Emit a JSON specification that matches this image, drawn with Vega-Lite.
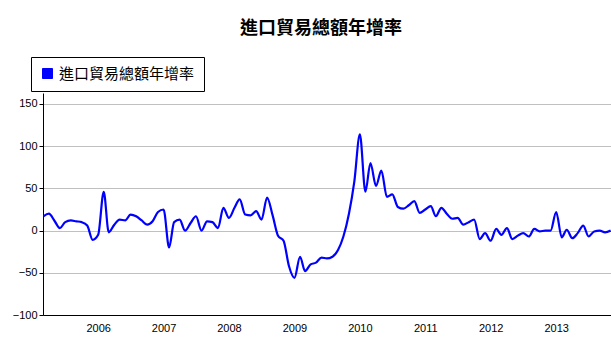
{
  "$schema": "https://vega.github.io/schema/vega-lite/v6.json",
  "autosize": "none",
  "width": 568,
  "height": 222,
  "padding": {"left": 43, "top": 93, "right": 0, "bottom": 39},
  "background": "white",
  "title": {
    "text": "進口貿易總額年增率",
    "font": "Noto Sans CJK TC",
    "fontSize": 18,
    "fontWeight": "bold",
    "color": "black",
    "anchor": "middle",
    "dx": -6,
    "offset": 19
  },
  "config": {
    "view": {"stroke": null},
    "axis": {"labelFont": "Liberation Sans", "labelFontSize": 11, "labelColor": "black", "domainColor": "black", "tickColor": "black", "title": null}
  },
  "data": {
    "values": [
      {"date": "2005-03-01", "value": 17},
      {"date": "2005-04-01", "value": 20},
      {"date": "2005-05-01", "value": 12},
      {"date": "2005-06-01", "value": 3},
      {"date": "2005-07-01", "value": 10},
      {"date": "2005-08-01", "value": 12},
      {"date": "2005-09-01", "value": 11},
      {"date": "2005-10-01", "value": 10},
      {"date": "2005-11-01", "value": 6},
      {"date": "2005-12-01", "value": -11},
      {"date": "2006-01-01", "value": -5},
      {"date": "2006-02-01", "value": 46},
      {"date": "2006-03-01", "value": -2},
      {"date": "2006-04-01", "value": 7},
      {"date": "2006-05-01", "value": 13},
      {"date": "2006-06-01", "value": 12},
      {"date": "2006-07-01", "value": 19},
      {"date": "2006-08-01", "value": 17},
      {"date": "2006-09-01", "value": 12},
      {"date": "2006-10-01", "value": 7},
      {"date": "2006-11-01", "value": 11},
      {"date": "2006-12-01", "value": 22},
      {"date": "2007-01-01", "value": 25},
      {"date": "2007-02-01", "value": -20},
      {"date": "2007-03-01", "value": 10},
      {"date": "2007-04-01", "value": 13},
      {"date": "2007-05-01", "value": 0},
      {"date": "2007-06-01", "value": 9},
      {"date": "2007-07-01", "value": 17},
      {"date": "2007-08-01", "value": 0},
      {"date": "2007-09-01", "value": 11},
      {"date": "2007-10-01", "value": 10},
      {"date": "2007-11-01", "value": 3},
      {"date": "2007-12-01", "value": 27},
      {"date": "2008-01-01", "value": 15},
      {"date": "2008-02-01", "value": 27},
      {"date": "2008-03-01", "value": 37},
      {"date": "2008-04-01", "value": 19},
      {"date": "2008-05-01", "value": 18},
      {"date": "2008-06-01", "value": 23},
      {"date": "2008-07-01", "value": 13},
      {"date": "2008-08-01", "value": 39},
      {"date": "2008-09-01", "value": 18},
      {"date": "2008-10-01", "value": -6},
      {"date": "2008-11-01", "value": -12},
      {"date": "2008-12-01", "value": -42},
      {"date": "2009-01-01", "value": -56},
      {"date": "2009-02-01", "value": -31},
      {"date": "2009-03-01", "value": -48},
      {"date": "2009-04-01", "value": -40},
      {"date": "2009-05-01", "value": -38},
      {"date": "2009-06-01", "value": -32},
      {"date": "2009-07-01", "value": -33},
      {"date": "2009-08-01", "value": -31},
      {"date": "2009-09-01", "value": -23},
      {"date": "2009-10-01", "value": -7},
      {"date": "2009-11-01", "value": 20},
      {"date": "2009-12-01", "value": 58},
      {"date": "2010-01-01", "value": 114},
      {"date": "2010-02-01", "value": 46},
      {"date": "2010-03-01", "value": 80},
      {"date": "2010-04-01", "value": 53},
      {"date": "2010-05-01", "value": 71},
      {"date": "2010-06-01", "value": 40},
      {"date": "2010-07-01", "value": 43},
      {"date": "2010-08-01", "value": 28},
      {"date": "2010-09-01", "value": 26},
      {"date": "2010-10-01", "value": 30},
      {"date": "2010-11-01", "value": 35},
      {"date": "2010-12-01", "value": 21},
      {"date": "2011-01-01", "value": 25},
      {"date": "2011-02-01", "value": 29},
      {"date": "2011-03-01", "value": 17},
      {"date": "2011-04-01", "value": 27},
      {"date": "2011-05-01", "value": 20},
      {"date": "2011-06-01", "value": 14},
      {"date": "2011-07-01", "value": 15},
      {"date": "2011-08-01", "value": 7},
      {"date": "2011-09-01", "value": 10},
      {"date": "2011-10-01", "value": 13},
      {"date": "2011-11-01", "value": -10},
      {"date": "2011-12-01", "value": -3},
      {"date": "2012-01-01", "value": -12},
      {"date": "2012-02-01", "value": 2},
      {"date": "2012-03-01", "value": -5},
      {"date": "2012-04-01", "value": 3},
      {"date": "2012-05-01", "value": -10},
      {"date": "2012-06-01", "value": -6},
      {"date": "2012-07-01", "value": -3},
      {"date": "2012-08-01", "value": -7},
      {"date": "2012-09-01", "value": 2},
      {"date": "2012-10-01", "value": -1},
      {"date": "2012-11-01", "value": 0},
      {"date": "2012-12-01", "value": 0},
      {"date": "2013-01-01", "value": 22},
      {"date": "2013-02-01", "value": -8},
      {"date": "2013-03-01", "value": 1},
      {"date": "2013-04-01", "value": -9},
      {"date": "2013-05-01", "value": -3},
      {"date": "2013-06-01", "value": 6},
      {"date": "2013-07-01", "value": -7},
      {"date": "2013-08-01", "value": -1},
      {"date": "2013-09-01", "value": 0},
      {"date": "2013-10-01", "value": -2},
      {"date": "2013-11-01", "value": 0}
    ]
  },
  "transform": [{"calculate": "'進口貿易總額年增率'", "as": "series"}],
  "mark": {"type": "line", "interpolate": "monotone", "strokeWidth": 2.2, "clip": true},
  "encoding": {
    "x": {
      "field": "date",
      "type": "temporal",
      "scale": {"domain": ["2005-02-27", "2013-11-03"], "nice": false},
      "axis": {"format": "%Y", "tickCount": {"interval": "year", "step": 1}, "grid": false, "ticks": false, "labelPadding": 7, "labelAngle": 0, "labelAlign": "center", "labelFlush": false, "labelOverlap": false}
    },
    "y": {
      "field": "value",
      "type": "quantitative",
      "scale": {"domain": [-100, 163], "nice": false, "zero": false},
      "axis": {"values": [-100, -50, 0, 50, 100, 150], "grid": true, "gridColor": "#c0c0c0", "gridWidth": 1, "tickSize": 4, "labelPadding": 2}
    },
    "color": {
      "field": "series",
      "type": "nominal",
      "scale": {"range": ["#0000ff"]},
      "legend": {
        "title": null,
        "orient": "none",
        "legendX": -12,
        "legendY": -36,
        "direction": "vertical",
        "strokeColor": "black",
        "fillColor": "white",
        "padding": 9,
        "symbolType": "square",
        "symbolSize": 100,
        "labelFont": "Noto Sans CJK TC",
        "labelFontSize": 15,
        "labelColor": "black",
        "labelOffset": 4,
        "encode": {
          "symbols": {"update": {"fill": {"value": "#0000ff"}, "stroke": {"value": "black"}, "strokeWidth": {"value": 1}}}
        }
      }
    }
  }
}
